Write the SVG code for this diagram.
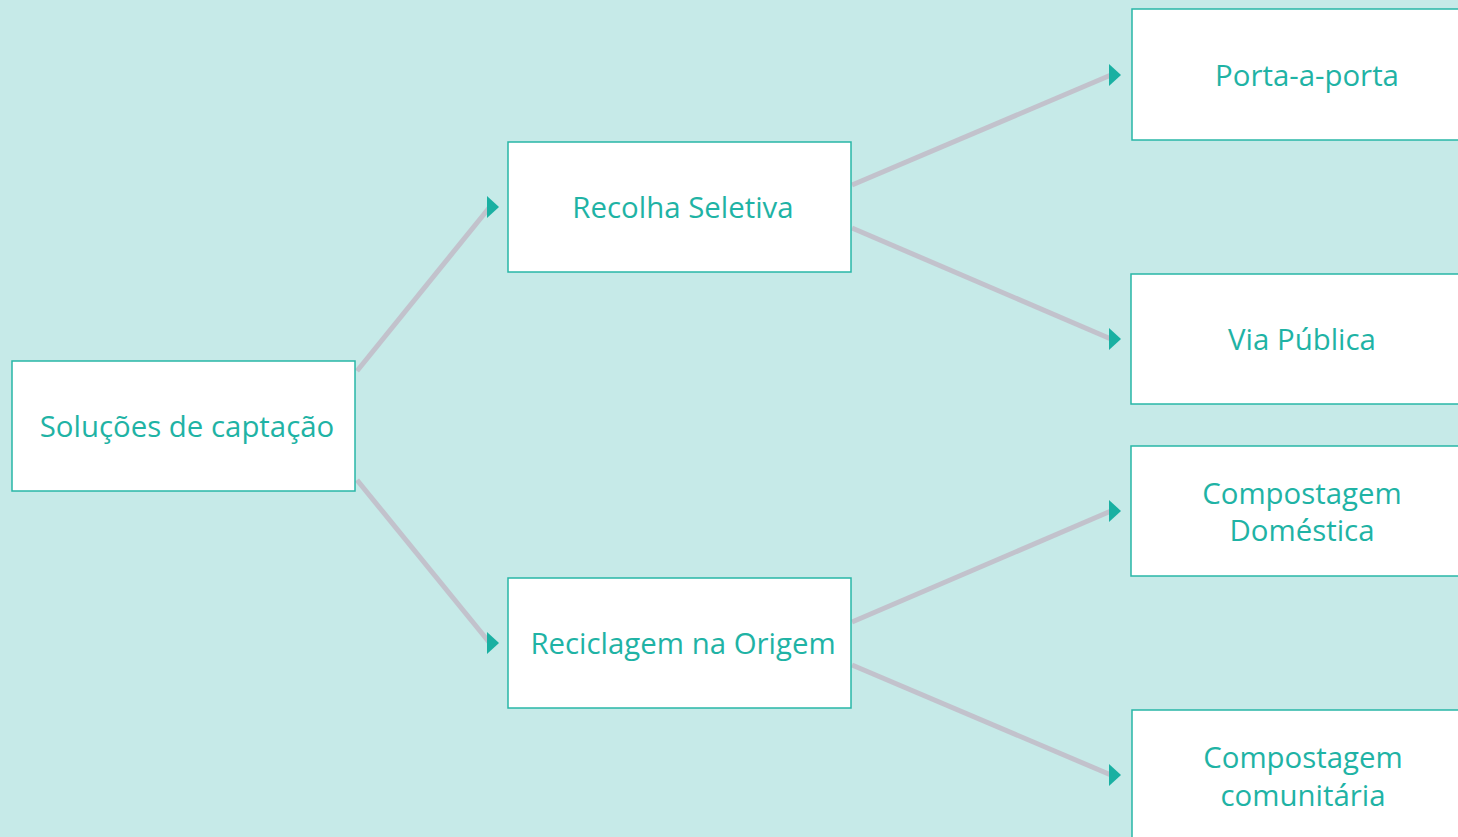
<svg xmlns="http://www.w3.org/2000/svg" width="1458" height="837" viewBox="0 0 1458 837">
<style>
.bg{fill:#c6eae8}
.box{fill:#ffffff;stroke:#28b7a7;stroke-width:1.5}
.lbl{font-family:"Open Sans","Noto Sans",sans-serif;font-size:29.4px;fill:#1fb3a5;text-anchor:middle}
.ln{stroke:#c2c2cc;stroke-width:5;fill:none}
.ah{fill:#1ab0a2}
</style>
<rect class="bg" x="0" y="0" width="1458" height="837"/>
<g id="connectors">
<line class="ln" x1="357" y1="371" x2="489" y2="208"/>
<polygon class="ah" points="487,196 499,207 487,218"/>
<line class="ln" x1="357" y1="480" x2="489" y2="642"/>
<polygon class="ah" points="487,632 499,643 487,654"/>
<line class="ln" x1="852" y1="185" x2="1111" y2="75"/>
<polygon class="ah" points="1109,64 1121,75 1109,86"/>
<line class="ln" x1="852" y1="228" x2="1111" y2="339"/>
<polygon class="ah" points="1109,328 1121,339 1109,350"/>
<line class="ln" x1="852" y1="622" x2="1111" y2="511"/>
<polygon class="ah" points="1109,500 1121,511 1109,522"/>
<line class="ln" x1="852" y1="665" x2="1111" y2="775"/>
<polygon class="ah" points="1109,764 1121,775 1109,786"/>
</g>
<g id="n-solucoes">
<rect class="box" x="12" y="361" width="343" height="130"/>
<text class="lbl" x="187" y="437">Soluções de captação</text>
</g>
<g id="n-recolha">
<rect class="box" x="508" y="142" width="343" height="130"/>
<text class="lbl" x="683" y="218">Recolha Seletiva</text>
</g>
<g id="n-reciclagem">
<rect class="box" x="508" y="578" width="343" height="130"/>
<text class="lbl" x="683" y="654">Reciclagem na Origem</text>
</g>
<g id="n-porta">
<rect class="box" x="1132" y="9" width="343" height="131"/>
<text class="lbl" x="1307" y="86">Porta-a-porta</text>
</g>
<g id="n-via">
<rect class="box" x="1131" y="274" width="343" height="130"/>
<text class="lbl" x="1302" y="350">Via Pública</text>
</g>
<g id="n-domestica">
<rect class="box" x="1131" y="446" width="343" height="130"/>
<text class="lbl" x="1302" y="504">Compostagem</text>
<text class="lbl" x="1302" y="541">Doméstica</text>
</g>
<g id="n-comunitaria">
<rect class="box" x="1132" y="710" width="343" height="140"/>
<text class="lbl" x="1303" y="768">Compostagem</text>
<text class="lbl" x="1303" y="806">comunitária</text>
</g>
</svg>
